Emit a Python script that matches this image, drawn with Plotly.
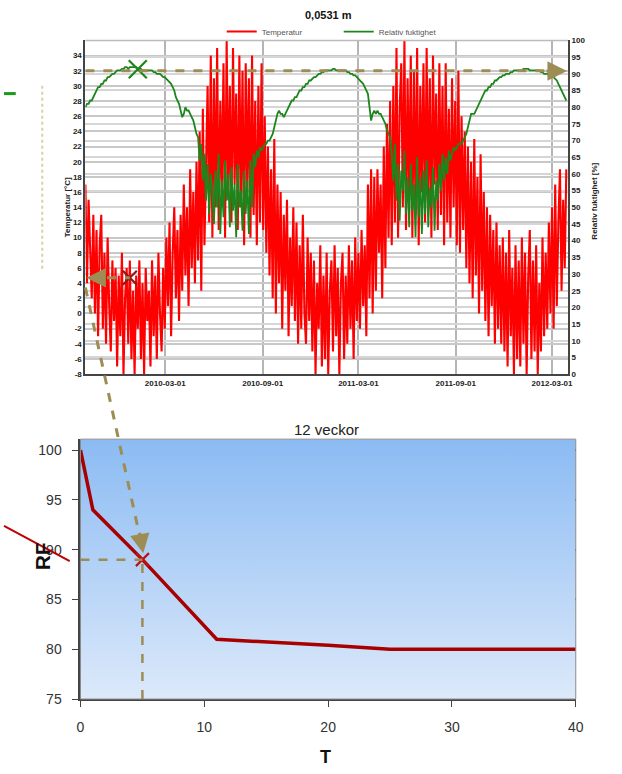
import pandas as pd
import plotly.graph_objects as go

# ---------------- data ----------------
title_top = "0,0531 m"
title_bottom = "12 veckor"
start_date = "2009-10-01"
step_days = 3

temperatur = (
    [17, 4, 15, 8, 2, 13, 0, 11, -3, 9]                 # okt 2009
    + [13, -2, 8, -4, 10, 1, -5, 7, -1, 6]              # nov
    + [-7, 5, -3, 8, -8, 2, 6, -4, 7, -6, 3]            # dec
    + [-8, 5, -2, 7, -6, 4, -8, 6, -1, 3]               # jan 2010
    + [-7, 7, -3, 5, -6, 8, 0, -5, 6]                   # feb
    + [-2, 10, 1, 12, -3, 8, 14, 2, 11, -1, 13]         # mar
    + [3, 17, 5, 14, 1, 19, 6, 16, 4, 20]               # apr
    + [7, 24, 3, 27, 9, 22, 30, 12, 34, 10]             # maj
    + [31, 14, 35, 11, 28, 16, 33, 10, 36, 15]          # jun
    + [30, 12, 35, 17, 29, 11, 34, 14, 32, 9, 33]       # jul
    + [16, 31, 10, 34, 13, 28, 9, 30, 12, 33]           # aug
    + [11, 26, 8, 22, 5, 19, 2, 23, 0, 17]              # sep
    + [4, 16, -2, 13, 3, 15, -3, 10, 1, 14, -1]         # okt 2010
    + [12, -4, 9, -2, 13, 0, -4, 10, -1, 8]             # nov
    + [-5, 7, -8, 4, -2, 9, -7, 5, -6, 8]               # dec
    + [-8, 3, 7, -5, 9, -3, 6, -8, 4, 8, -6]            # jan 2011
    + [5, -4, 9, -2, 7, -6, 10, -1, 8]                  # feb
    + [-2, 11, 1, 9, -3, 17, 2, 19, 0, 18]              # mar
    + [3, 19, 8, 17, 2, 22, 6, 25, 10, 28]              # apr
    + [9, 30, 12, 35, 10, 27, 33, 14, 36, 11, 31]       # maj
    + [15, 34, 10, 32, 13, 35, 9, 30, 16, 33]           # jun
    + [12, 35, 14, 31, 10, 34, 17, 29, 11, 33]          # jul
    + [13, 30, 9, 33, 12, 27, 10, 31, 14, 28]           # aug
    + [9, 32, 8, 26, 11, 24, 6, 22, 4, 20]              # sep
    + [2, 23, 5, 18, 0, 21, 3, 16, -1, 14]              # okt 2011
    + [-3, 13, 1, 11, -4, 12, -2, 9, -4, 10]            # nov
    + [-5, 8, -7, 11, -3, 6, -8, 9, -6, 7]              # dec
    + [-7, 10, -4, 8, -8, 5, 11, -6, 7, -5]             # jan 2012
    + [9, -8, 4, -5, 10, -3, 8, -2, 12, 0]              # feb
    + [14, -2, 17, 1, 12, 19, 3, 15, 6, 19]             # mar
)

rel_fuktighet = (
    [80, 81, 81, 82, 82, 83, 84, 85, 86, 86]
    + [87, 87, 88, 88, 89, 89, 89.5, 90, 90, 90.5]
    + [91, 91, 91, 91.5, 91.5, 92, 92, 91.5, 92, 92, 92]
    + [92, 92, 91.5, 91.5, 91.5, 91, 91, 91, 91, 91]
    + [91, 91, 90.5, 90.5, 90, 90, 90, 89.5, 89]
    + [89, 88.5, 88, 87.5, 87, 86, 85, 83, 82, 81, 79]
    + [77, 78, 80, 79, 79, 78, 77, 76, 74, 72]
    + [71, 64, 69, 58, 66, 52, 63, 48, 60, 55]
    + [45, 61, 50, 66, 42, 58, 47, 64, 52, 60]
    + [44, 62, 49, 57, 41, 63, 50, 55, 43, 61, 48]
    + [58, 42, 64, 50, 66, 62, 67, 65, 68, 67]
    + [68, 69, 69, 70, 70, 71, 72, 74, 76, 78]
    + [79, 78, 78, 77, 78, 79, 80, 81, 82, 82, 83]
    + [83, 84, 85, 85, 86, 86, 87, 87, 88, 88]
    + [88.5, 89, 89, 89.5, 90, 90, 90.5, 90.5, 91, 91]
    + [91, 91, 91, 91.5, 91.5, 91, 91, 91, 91, 91, 91]
    + [91, 90.5, 90.5, 90, 90, 89.5, 89.5, 89, 88.5]
    + [88, 87.5, 87, 86, 85, 84, 80, 76, 78, 79]
    + [78, 79, 78, 78, 77, 76, 75, 73, 72, 71]
    + [66, 58, 69, 52, 63, 46, 61, 55, 67, 48, 59]
    + [44, 63, 49, 57, 41, 65, 47, 59, 42, 61]
    + [48, 64, 44, 56, 50, 62, 43, 58, 52, 63]
    + [55, 66, 58, 65, 60, 67, 64, 66, 68, 67]
    + [68, 69, 69, 69, 70, 71, 72, 74, 76, 78]
    + [78, 78, 79, 80, 81, 82, 83, 84, 85, 85]
    + [86, 86, 87, 87, 88, 88, 88.5, 89, 89, 89.5]
    + [89.5, 90, 90, 90, 90.5, 90.5, 91, 91, 91, 91]
    + [91, 91, 91.5, 91.5, 91.5, 91.5, 91, 91, 91, 91]
    + [91, 91, 91, 90.5, 90.5, 90, 90, 90, 89.5, 89.5]
    + [89, 89, 88.5, 88, 87, 86, 85, 84, 83, 82]
)

date_ticks = ["2010-03-01", "2010-09-01", "2011-03-01", "2011-09-01", "2012-03-01"]
date_range = ["2009-10-01", "2012-03-31"]
temp_ticks = list(range(-8, 35, 2))
temp_range = [-8, 36]
rh_ticks = list(range(0, 101, 5))
rh_range = [0, 100]

# reading points
peak_date = "2010-01-08"
peak_temp = 32.2
read_rh_as_temp = 32
read_date = "2009-12-24"
read_temp = 4.7

# bottom chart
t_vals = [0, 1, 5, 11, 20, 25, 40]
rf_vals = [100, 94, 89, 81, 80.4, 80, 80]
t_ticks = [0, 10, 20, 30, 40]
rf_ticks = [75, 80, 85, 90, 95, 100]
t_range = [0, 40]
rf_range = [75, 101.1]
read_t = 5
read_rf = 89

# ---------------- figure ----------------
W, H = 622, 774
dates = pd.date_range(start_date, periods=len(temperatur), freq=f"{step_days}D")

olive = "#9d8d55"
green = "#1c861c"
red = "#ff0000"
dark_red = "#a80000"

fig = go.Figure()

# gradient background for the bottom chart
fig.add_trace(go.Scatter(
    x=[t_range[0], t_range[1], t_range[1], t_range[0], t_range[0]],
    y=[rf_range[0], rf_range[0], rf_range[1], rf_range[1], rf_range[0]],
    xaxis="x2", yaxis="y3", mode="lines", line=dict(width=0),
    fill="toself",
    fillgradient=dict(type="vertical", colorscale=[[0, "#dce9fa"], [1, "#8bbbf3"]]),
    hoverinfo="skip", showlegend=False,
))

fig.add_trace(go.Scatter(
    x=dates, y=temperatur, name="Temperatur", mode="lines",
    line=dict(color=red, width=2.1), xaxis="x", yaxis="y",
))
fig.add_trace(go.Scatter(
    x=dates, y=rel_fuktighet, name="Relativ fuktighet", mode="lines",
    line=dict(color=green, width=1.8), xaxis="x", yaxis="y2",
))

# markers in top chart
fig.add_trace(go.Scatter(
    x=[peak_date], y=[peak_temp], mode="markers", showlegend=False,
    marker=dict(symbol="x-thin", size=18, line=dict(color=green, width=2.2)),
    xaxis="x", yaxis="y",
))
fig.add_trace(go.Scatter(
    x=[read_date], y=[read_temp], mode="markers", showlegend=False,
    marker=dict(symbol="x-thin", size=14, line=dict(color="#8b1a1a", width=2.2)),
    xaxis="x", yaxis="y",
))

# bottom curve
fig.add_trace(go.Scatter(
    x=t_vals, y=rf_vals, mode="lines", showlegend=False,
    line=dict(color=dark_red, width=3.5), xaxis="x2", yaxis="y3",
))
fig.add_trace(go.Scatter(
    x=[read_t], y=[read_rf], mode="markers", showlegend=False,
    marker=dict(symbol="x-thin", size=13, line=dict(color="#c01010", width=2.2)),
    xaxis="x2", yaxis="y3",
))


def px(x):
    return x / W


def py(y):
    return 1 - y / H


top_font = dict(family="Liberation Sans", size=8, color="#222", weight="bold")
bot_font = dict(family="Liberation Sans Narrow, Liberation Sans", size=14, color="#333")

shapes = [
    dict(type="line", xref="x", yref="y", x0=date_range[0], x1="2012-03-22",
         y0=read_rh_as_temp, y1=read_rh_as_temp, line=dict(color=olive, width=3, dash="dash")),
    dict(type="line", xref="x", yref="y", x0="2009-10-08", x1=read_date,
         y0=read_temp, y1=read_temp, line=dict(color=olive, width=3, dash="dash")),
    dict(type="line", xref="x2", yref="y3", x0=t_range[0], x1=read_t,
         y0=read_rf, y1=read_rf, line=dict(color=olive, width=2.5, dash="dash")),
    dict(type="line", xref="x2", yref="y3", x0=read_t, x1=read_t,
         y0=rf_range[0], y1=read_rf, line=dict(color=olive, width=2.5, dash="dash")),
    dict(type="line", xref="paper", yref="paper", x0=px(83), y0=py(288), x1=px(140), y1=py(548),
         line=dict(color=olive, width=3, dash="dash")),
    dict(type="line", xref="paper", yref="paper", x0=px(0), y0=py(530), x1=px(67), y1=py(566),
         line=dict(color="#c00000", width=2)),
    dict(type="line", xref="paper", yref="paper", x0=px(0), y0=py(91), x1=px(12), y1=py(91),
         line=dict(color="#1a9a1a", width=3)),
    dict(type="line", xref="paper", yref="paper", x0=px(39), y0=py(83), x1=px(39), y1=py(270),
         line=dict(color="#d9d0ac", width=2, dash="dot")),
    dict(type="rect", xref="paper", yref="paper", x0=px(78), x1=px(583), y0=py(706), y1=py(442),
         line=dict(color="#8a8a8a", width=1), layer="above"),
    dict(type="line", xref="paper", yref="paper", x0=px(83), x1=px(575), y0=py(37), y1=py(37),
         line=dict(color="#bbbbbb", width=1.5)),
]

annotations = [
    dict(text=f"<b>{title_top}</b>", xref="paper", yref="paper", x=px(331), y=py(11),
         yanchor="middle", showarrow=False,
         font=dict(family="Liberation Sans", size=11, color="#111")),
    dict(text="Temperatur [°C]", xref="paper", yref="paper", x=px(58), y=py(206),
         yanchor="middle", textangle=-90, showarrow=False, font=top_font),
    dict(text="Relativ fuktighet [%]", xref="paper", yref="paper", x=px(609), y=py(200),
         yanchor="middle", textangle=-90, showarrow=False, font=top_font),
    dict(text=title_bottom, xref="paper", yref="paper", x=px(329), y=py(432),
         yanchor="middle", showarrow=False,
         font=dict(family="Liberation Sans", size=15, color="#222")),
    dict(text="<b>RF</b>", xref="paper", yref="paper", x=px(25), y=py(561),
         yanchor="middle", textangle=-90, showarrow=False,
         font=dict(family="Liberation Sans", size=21, color="#111")),
    dict(text="<b>T</b>", xref="paper", yref="paper", x=px(328), y=py(765),
         yanchor="middle", showarrow=False,
         font=dict(family="Liberation Sans", size=18, color="#111")),
    dict(text="", xref="paper", yref="paper", x=px(574), y=py(68), ax=-22, ay=0,
         showarrow=True, arrowhead=2, arrowsize=1.3, arrowwidth=3, arrowcolor=olive),
    dict(text="", xref="paper", yref="paper", x=px(84), y=py(278), ax=20, ay=0,
         showarrow=True, arrowhead=2, arrowsize=1.3, arrowwidth=3, arrowcolor=olive),
    dict(text="", xref="paper", yref="paper", x=px(142), y=py(558), ax=-4, ay=-22,
         showarrow=True, arrowhead=2, arrowsize=1.3, arrowwidth=3, arrowcolor=olive),
]

fig.update_layout(
    width=W, height=H,
    margin=dict(l=0, r=0, t=0, b=0),
    paper_bgcolor="white", plot_bgcolor="white",
    showlegend=True,
    legend=dict(orientation="h", x=px(222), y=py(28), xanchor="left", yanchor="middle",
                font=dict(family="Liberation Sans", size=8, color="#555"),
                bgcolor="rgba(0,0,0,0)", itemwidth=30, entrywidth=72),
    xaxis=dict(domain=[px(83), px(575)], anchor="y", type="date", range=date_range,
               tickvals=date_ticks, tickformat="%Y-%m-%d", tickfont=top_font,
               showgrid=True, gridcolor="#b5b5b5", gridwidth=1.5,
               showline=True, linecolor="#444", linewidth=2, ticks=""),
    yaxis=dict(domain=[py(376), py(37)], anchor="x", range=temp_range, tickvals=temp_ticks,
               ticktext=[str(v) for v in temp_ticks],
               tickfont=top_font, showgrid=True, gridcolor="#c8c8c8", gridwidth=1.5,
               zeroline=False, showline=True, linecolor="#444", linewidth=2, ticks=""),
    yaxis2=dict(overlaying="y", anchor="x", side="right", range=rh_range, tickvals=rh_ticks,
                tickfont=top_font, showgrid=True, gridcolor="#d6d6d6", gridwidth=1.5,
                zeroline=False, showline=True, linecolor="#444", linewidth=2, ticks=""),
    xaxis2=dict(domain=[px(78), px(583)], anchor="y3", range=t_range, tickvals=t_ticks,
                tickfont=bot_font, showgrid=False, zeroline=False,
                showline=True, linecolor="#444", linewidth=2, ticks="outside",
                ticklen=6, tickcolor="#444", ticklabelstandoff=8),
    yaxis3=dict(domain=[py(706), py(442)], anchor="x2", range=rf_range, tickvals=rf_ticks,
                tickfont=bot_font, showgrid=True, gridcolor="#1c2a38", gridwidth=1.5,
                zeroline=False, showline=True, linecolor="#444", linewidth=2,
                ticks="outside", ticklen=6, tickcolor="#444", ticklabelstandoff=8),
    shapes=shapes,
    annotations=annotations,
)

fig.write_html("out.html")
